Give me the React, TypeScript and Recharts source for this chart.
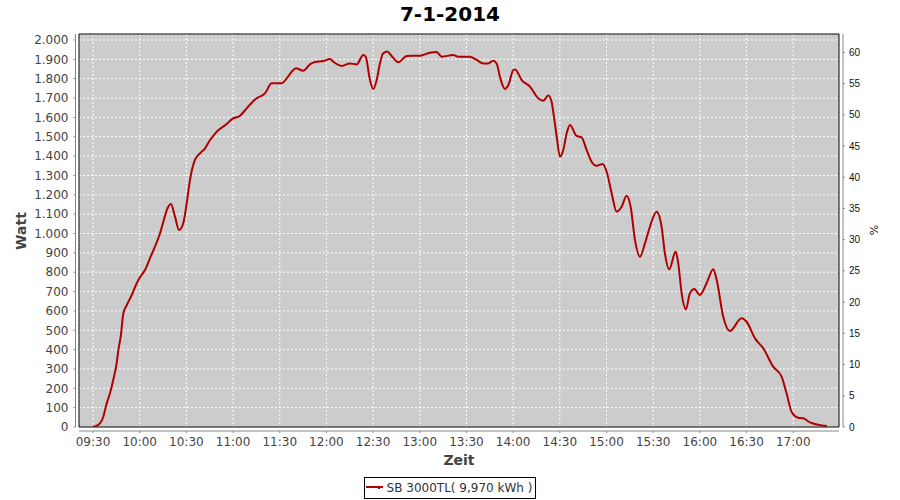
import React from 'react';
import { LineChart, Line, XAxis, YAxis, CartesianGrid, ReferenceArea, Legend } from 'recharts';

const chartTitle = '7-1-2014';
const seriesName = 'SB 3000TL( 9,970 kWh )';
const xAxisTitle = 'Zeit';
const leftAxisTitle = 'Watt';
const rightAxisTitle = '%';

const startLabel = '09:30';
const timeTickLabels = ['09:30', '10:00', '10:30', '11:00', '11:30', '12:00', '12:30', '13:00', '13:30', '14:00', '14:30', '15:00', '15:30', '16:00', '16:30', '17:00'];
const wattTicks = [0, 100, 200, 300, 400, 500, 600, 700, 800, 900, 1000, 1100, 1200, 1300, 1400, 1500, 1600, 1700, 1800, 1900, 2000];
const percentTicks = [0, 5, 10, 15, 20, 25, 30, 35, 40, 45, 50, 55, 60];

// minutes after 09:30
const minutesAfterStart = [
  0, 4.5, 6.6, 8.8, 10.9, 13.0, 15.2, 16.3, 17.8, 19.5,
  21.7, 24.9, 28.1, 30.2, 33.4, 36.6, 39.8, 43.1, 45.2, 47.4,
  50.1, 52.7, 55.3, 58.0, 60.2, 62.3, 65.5, 68.8, 72.0, 75.2,
  77.3, 79.5, 82.7, 85.9, 89.1, 94.5, 98.8, 102.0, 105.2, 108.4,
  110.5, 114.8, 121.2, 124.5, 127.7, 130.4, 135.1, 139.4, 142.6, 148.0,
  152.3, 154.4, 159.8, 165.1, 169.4, 173.7, 175.2, 178.0, 180.1, 182.3,
  184.4, 186.5, 189.1, 191.9, 196.2, 201.6, 210.1, 216.5, 220.8, 224.1,
  231.5, 234.7, 242.2, 246.5, 250.8, 254.0, 257.2, 259.4, 261.5, 264.7,
  266.9, 270.1, 271.2, 275.5, 280.8, 286.1, 289.3, 292.6, 294.7, 296.2,
  298.0, 300.1, 302.2, 304.4, 306.5, 310.8, 314.0, 317.2, 320.4, 323.6,
  327.5, 330.1, 333.3, 336.5, 339.7, 342.9, 345.5, 348.3, 351.5, 354.7,
  357.9, 362.2, 365.4, 367.5, 370.3, 374.4, 376.1, 378.3, 381.0, 383.6,
  386.4, 390.0, 394.3, 398.6, 400.8, 405.0, 409.3, 416.8, 420.0, 425.4,
  430.7, 437.1, 442.5, 445.7, 448.9, 453.2, 456.4, 460.7, 471.6,
];

const wattValues = [
  0, 19, 53, 122, 174, 243, 329, 398, 467, 588,
  630, 682, 743, 774, 811, 872, 932, 1001, 1061, 1121,
  1152, 1087, 1018, 1053, 1156, 1276, 1380, 1414, 1440, 1483,
  1504, 1526, 1547, 1566, 1590, 1609, 1647, 1676, 1699, 1712,
  1724, 1776, 1776, 1802, 1836, 1854, 1841, 1874, 1886, 1891,
  1902, 1888, 1866, 1879, 1874, 1922, 1914, 1793, 1747, 1793,
  1879, 1931, 1940, 1917, 1885, 1917, 1919, 1934, 1938, 1914,
  1922, 1914, 1914, 1897, 1879, 1879, 1893, 1879, 1810, 1747,
  1767, 1845, 1848, 1793, 1759, 1699, 1686, 1713, 1681, 1604,
  1500, 1397, 1432, 1518, 1561, 1504, 1497, 1432, 1371, 1350,
  1359, 1319, 1208, 1113, 1138, 1195, 1138, 966, 880, 949,
  1035, 1113, 1035, 898, 815, 906, 846, 691, 608, 691,
  713, 682, 743, 815, 760, 570, 496, 562, 544, 458,
  407, 312, 260, 174, 79, 48, 45, 24, 5,
];

const timeDomain: [number, number] = [561, 1049.4];
const wattDomain: [number, number] = [0, 2031];
const percentDomain: [number, number] = [0, 62.93];

const toMinutes = (s: string) => {
  const [h, m] = s.split(':').map(Number);
  return h * 60 + m;
};
const pad2 = (n: number) => String(n).padStart(2, '0');
const fmtTime = (v: number) => `${pad2(Math.floor(v / 60))}:${pad2(Math.round(v % 60))}`;
const fmtWatt = (v: number) =>
  v >= 1000 ? `${Math.floor(v / 1000)}.${String(v % 1000).padStart(3, '0')}` : String(v);

const start = toMinutes(startLabel);
const data = minutesAfterStart.map((m, i) => ({ t: start + m, w: wattValues[i] }));
const timeTicks = timeTickLabels.map(toMinutes);

const LINE_COLOR = '#b00000';
const FONT = '"DejaVu Sans", sans-serif';

const renderLegend = () => (
  <div style={{ display: 'flex', justifyContent: 'center', width: 900 }}>
    <div
      style={{
        boxSizing: 'border-box',
        height: 22,
        border: '1px solid #000',
        display: 'flex',
        alignItems: 'center',
        padding: '0 3px 0 1px',
        background: '#fff',
        fontFamily: FONT,
        fontSize: 12,
        color: '#333',
        whiteSpace: 'nowrap',
      }}
    >
      <svg width={21} height={10} style={{ display: 'block' }}>
        <line x1={0} y1={4} x2={17} y2={4} stroke={LINE_COLOR} strokeWidth={2} />
        <rect x={12} y={4} width={2} height={2} fill={LINE_COLOR} />
      </svg>
      <span>{seriesName}</span>
    </div>
  </div>
);

export default function App() {
  return (
    <div style={{ position: 'absolute', left: 0, top: 0, width: 900, height: 500, background: '#fff' }}>
      <LineChart width={900} height={500} data={data} margin={{ top: 34, right: 0, bottom: 44, left: 0 }}>
        <CartesianGrid
          xAxisId="time"
          yAxisId="watt"
          fill="#cccccc"
          fillOpacity={1}
          stroke="#ffffff"
          strokeDasharray="2 2"
        />
        <XAxis xAxisId="gapX" type="number" domain={[0, 1]} allowDataOverflow height={4} tick={false} axisLine={false} tickLine={false} />
        <XAxis
          xAxisId="time"
          dataKey="t"
          type="number"
          domain={timeDomain}
          allowDataOverflow
          ticks={timeTicks}
          tickFormatter={fmtTime}
          interval={0}
          height={25}
          stroke="#888888"
          tickSize={2}
          tickMargin={4}
          tick={{ fill: '#444444', fontSize: 12, fontFamily: FONT }}
        />
        <YAxis yAxisId="gapL" orientation="left" type="number" domain={[0, 1]} allowDataOverflow width={3.5} tick={false} axisLine={false} tickLine={false} />
        <YAxis
          yAxisId="watt"
          orientation="left"
          type="number"
          domain={wattDomain}
          allowDataOverflow
          ticks={wattTicks}
          tickFormatter={fmtWatt}
          interval={0}
          width={75.5}
          stroke="#888888"
          tickSize={2}
          tickMargin={5}
          tick={{ fill: '#444444', fontSize: 12, fontFamily: FONT }}
        />
        <YAxis yAxisId="gapR" orientation="right" type="number" domain={[0, 1]} allowDataOverflow width={4} tick={false} axisLine={false} tickLine={false} />
        <YAxis
          yAxisId="pct"
          orientation="right"
          type="number"
          domain={percentDomain}
          allowDataOverflow
          ticks={percentTicks}
          interval={0}
          width={57}
          stroke="#888888"
          tickSize={2}
          tickMargin={4}
          tick={{ fill: '#111111', fontSize: 10, fontFamily: '"Liberation Sans", sans-serif' }}
        />
        <ReferenceArea
          xAxisId="time"
          yAxisId="watt"
          x1={timeDomain[0]}
          x2={timeDomain[1]}
          y1={wattDomain[0]}
          y2={wattDomain[1]}
          fill="none"
          fillOpacity={0}
          stroke="#000000"
          strokeWidth={1}
          strokeOpacity={1}
        />
        <Line
          xAxisId="time"
          yAxisId="watt"
          dataKey="w"
          name={seriesName}
          type="monotone"
          stroke={LINE_COLOR}
          strokeWidth={2}
          dot={false}
          activeDot={false}
          isAnimationActive={false}
        />
        <Legend
          layout="horizontal"
          verticalAlign="middle"
          align="center"
          content={renderLegend}
          wrapperStyle={{ position: 'absolute', top: 477, left: 0, width: 900, height: 22 }}
        />
      </LineChart>
      <svg
        width={900}
        height={500}
        style={{ position: 'absolute', left: 0, top: 0, pointerEvents: 'none' }}
      >
        <text x={450} y={21} textAnchor="middle" fontFamily={FONT} fontWeight="bold" fontSize={20} fill="#000">
          {chartTitle}
        </text>
        <text x={459} y={464.5} textAnchor="middle" fontFamily={FONT} fontWeight="bold" fontSize={14} fill="#444444">
          {xAxisTitle}
        </text>
        <text
          x={0}
          y={0}
          transform="translate(25.5,231) rotate(-90)"
          textAnchor="middle"
          fontFamily={FONT}
          fontWeight="bold"
          fontSize={14}
          fill="#444444"
        >
          {leftAxisTitle}
        </text>
        <text
          x={0}
          y={0}
          transform="translate(877.5,230) rotate(-90)"
          textAnchor="middle"
          fontFamily={FONT}
          fontSize={11}
          fill="#222222"
        >
          {rightAxisTitle}
        </text>
      </svg>
    </div>
  );
}
